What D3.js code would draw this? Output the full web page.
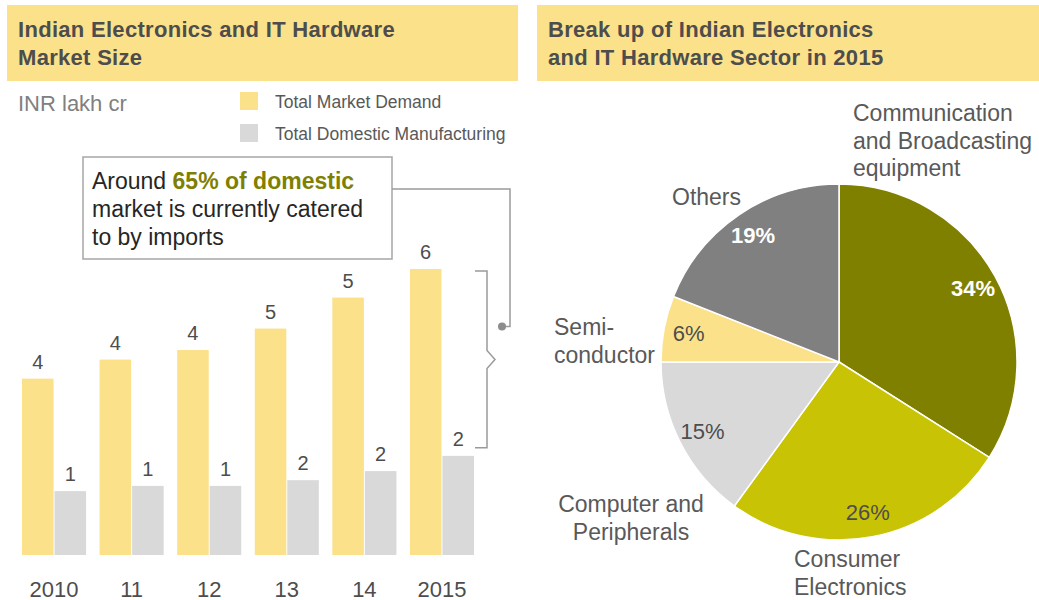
<!DOCTYPE html>
<html lang="en">
<head>
  <meta charset="UTF-8">
  <title>Indian Electronics and IT Hardware</title>
  <script src="https://d3js.org/d3.v7.min.js"></script>
  <style>
    body { margin: 0; background: #fff; }
    svg { font-family: "Liberation Sans", Arial, sans-serif; }
    .head { fill: #fbe18a; }
    .title { font-size: 22px; font-weight: bold; fill: #4d4d4d; letter-spacing: 0.3px; }
    .val { font-size: 20px; fill: #4d4d4d; text-anchor: middle; }
    .year { font-size: 22px; fill: #4d4d4d; text-anchor: middle; }
    .legend text { font-size: 17.5px; fill: #595959; }
    .note { font-size: 23px; fill: #262626; }
    .guide { fill: none; stroke: #9a9a9a; stroke-width: 1.5; }
    .cat { font-size: 23px; fill: #595959; }
    .pct { font-size: 22px; text-anchor: middle; }
  </style>
</head>
<body>
  <div id="chart"></div>
  <script>
    // bar chart data (INR lakh cr)
    const years = ["2010", "11", "12", "13", "14", "2015"];
    const marketDemand = [3.7, 4.1, 4.3, 4.75, 5.4, 6.0];
    const domesticMfg = [1.34, 1.45, 1.45, 1.57, 1.76, 2.08];
    const seriesNames = ["Total Market Demand", "Total Domestic Manufacturing"];
    const seriesColors = ["#fbe18a", "#d9d9d9"];

    // pie data, 2015 share in %
    const sectors = ["Communication and Broadcasting equipment", "Consumer Electronics",
                     "Computer and Peripherals", "Semi-conductor", "Others"];
    const sectorShares = [34, 26, 15, 6, 19];
    const sectorLines = [["Communication", "and Broadcasting", "equipment"],
                         ["Consumer", "Electronics"],
                         ["Computer and", "Peripherals"],
                         ["Semi-", "conductor"],
                         ["Others"]];
    const sectorColors = ["#808000", "#c9c305", "#d9d9d9", "#fbe18a", "#808080"];

    const W = 1039, H = 600;
    const svg = d3.select("#chart").append("svg")
      .attr("width", W).attr("height", H);

    // header bands
    const heads = [
      { x: 7, w: 511, lines: ["Indian Electronics and IT Hardware", "Market Size"] },
      { x: 537, w: 502, lines: ["Break up of Indian Electronics", "and IT Hardware Sector in 2015"] }
    ];
    heads.forEach(h => {
      svg.append("rect").attr("class", "head")
        .attr("x", h.x).attr("y", 5).attr("width", h.w).attr("height", 76);
      svg.append("text").attr("class", "title")
        .selectAll("tspan").data(h.lines).join("tspan")
        .attr("x", h.x + 11).attr("y", (d, i) => 37 + i * 28)
        .text(d => d);
    });

    // ---------- bar chart ----------
    const baseY = 555;
    const x = d3.scaleBand().domain(years).range([22, 474]).paddingInner(0.174).paddingOuter(0);
    const xs = d3.scaleBand().domain([0, 1]).range([0, x.bandwidth()]).paddingInner(0.03);
    const y = d3.scaleLinear().domain([0, 6]).range([baseY, 269]);

    svg.append("text").attr("x", 18).attr("y", 111)
      .style("font-size", "22px").style("fill", "#808080").text("INR lakh cr");

    const legend = svg.append("g").attr("class", "legend");
    seriesNames.forEach((s, i) => {
      legend.append("rect").attr("x", 240).attr("y", 92 + i * 32)
        .attr("width", 18).attr("height", 18).attr("fill", seriesColors[i]);
      legend.append("text").attr("x", 275).attr("y", 108 + i * 32).text(s);
    });

    const rows = years.map((yr, i) => ({ yr, vals: [marketDemand[i], domesticMfg[i]] }));
    const groups = svg.selectAll(".grp").data(rows).join("g")
      .attr("class", "grp")
      .attr("transform", d => `translate(${x(d.yr)},0)`);

    groups.selectAll("rect").data(d => d.vals).join("rect")
      .attr("x", (d, i) => xs(i))
      .attr("y", d => y(d))
      .attr("width", xs.bandwidth())
      .attr("height", d => baseY - y(d))
      .attr("fill", (d, i) => seriesColors[i]);

    groups.selectAll(".val").data(d => d.vals).join("text")
      .attr("class", "val")
      .attr("x", (d, i) => xs(i) + xs.bandwidth() / 2)
      .attr("y", d => y(d) - 10)
      .text(d => Math.round(d));

    svg.selectAll(".year").data(years).join("text")
      .attr("class", "year")
      .attr("x", d => x(d) + x.bandwidth() / 2)
      .attr("y", 597)
      .text(d => d);

    // callout box
    svg.append("rect").attr("x", 83).attr("y", 157).attr("width", 309).attr("height", 102)
      .attr("fill", "#fff").attr("stroke", "#a6a6a6").attr("stroke-width", 1.5);
    const note = svg.append("text").attr("class", "note");
    const l1 = note.append("tspan").attr("x", 92).attr("y", 189);
    l1.append("tspan").text("Around ");
    l1.append("tspan").attr("font-weight", "bold").attr("fill", "#7f7f00").text("65% of domestic");
    note.append("tspan").attr("x", 92).attr("y", 217).text("market is currently catered");
    note.append("tspan").attr("x", 92).attr("y", 245).text("to by imports");

    // brace around the 2015 gap
    const last = years[years.length - 1];
    const bx = x(last) + x.bandwidth() + 13;
    const bTop = y(marketDemand[5]) + 2, bBot = y(domesticMfg[5]) - 8, bMid = (bTop + bBot) / 2;
    svg.append("path").attr("class", "guide")
      .attr("d", `M${bx - 12},${bTop}H${bx}V${bMid - 9}L${bx + 8},${bMid}L${bx},${bMid + 9}V${bBot}H${bx - 12}`);

    // connector from box to brace
    const dotY = bMid - 33;
    svg.append("path").attr("class", "guide")
      .attr("d", `M392,189H510V${dotY}H502`);
    svg.append("circle").attr("cx", 502).attr("cy", dotY).attr("r", 4).attr("fill", "#8c8c8c");

    // ---------- pie chart ----------
    const cx = 839, cy = 362, R = 178;
    const pie = d3.pie().sort(null).value(d => d);
    const arc = d3.arc().innerRadius(0).outerRadius(R);
    const labelArc = d3.arc().innerRadius(R * 0.86).outerRadius(R * 0.86);
    const slices = pie(sectorShares);

    const pg = svg.append("g").attr("transform", `translate(${cx},${cy})`);
    pg.selectAll("path").data(slices).join("path")
      .attr("d", arc)
      .attr("fill", (d, i) => sectorColors[i])
      .attr("stroke", "#fff").attr("stroke-width", 1.5);

    pg.selectAll(".pct").data(slices).join("text")
      .attr("class", "pct")
      .attr("x", d => labelArc.centroid(d)[0])
      .attr("y", d => labelArc.centroid(d)[1] + 8)
      .attr("fill", (d, i) => (i === 0 || i === 4) ? "#fff" : "#4d4d4d")
      .attr("font-weight", (d, i) => (i === 0 || i === 4) ? "bold" : "normal")
      .text(d => d.data + "%");

    // category label placement relative to pie centre
    const catPos = [
      { dx: 14, dy: -241, anchor: "start" },
      { dx: -45, dy: 205, anchor: "start" },
      { dx: -208, dy: 150, anchor: "middle" },
      { dx: -285, dy: -27, anchor: "start" },
      { dx: -167, dy: -157, anchor: "start" }
    ];
    sectorLines.forEach((lines, i) => {
      const p = catPos[i];
      pg.append("text").attr("class", "cat").attr("text-anchor", p.anchor)
        .selectAll("tspan").data(lines).join("tspan")
        .attr("x", p.dx).attr("y", (d, j) => p.dy + j * 27.5)
        .text(d => d);
    });
  </script>
</body>
</html>
